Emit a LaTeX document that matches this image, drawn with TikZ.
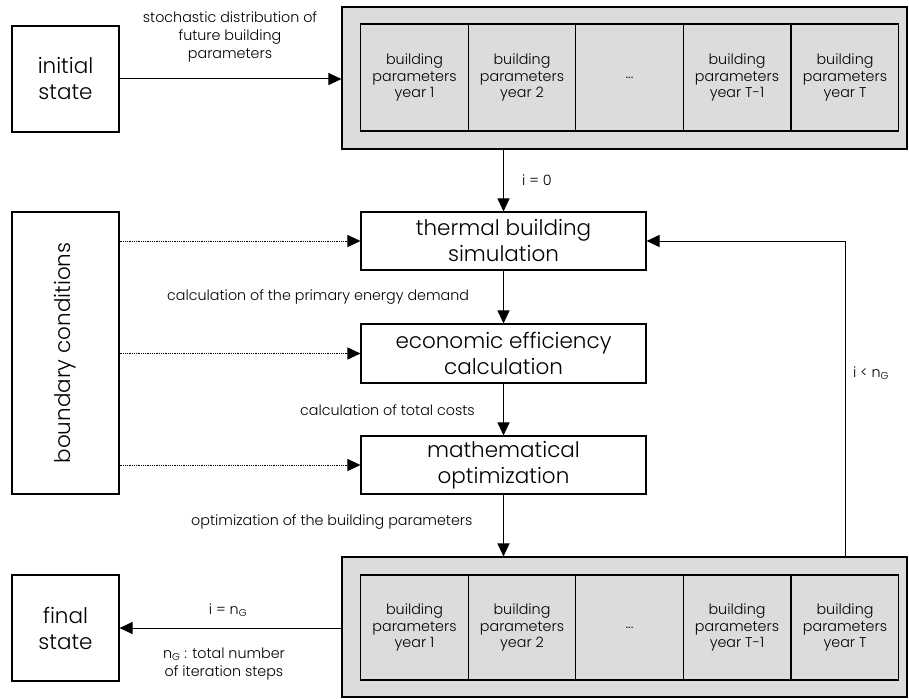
\documentclass[tikz,border=0pt]{standalone}
\usepackage{fontspec}
\setmainfont{Poppins}[UprightFont=* Light]
\usetikzlibrary{arrows.meta,calc}
\definecolor{boxgray}{RGB}{220,220,220}
\tikzset{
  box/.style={draw, rectangle, line width=1.1pt, inner sep=0pt, align=center, font=\fontsize{21.5}{26}\selectfont},
  graybox/.style={draw, rectangle, line width=1.1pt, fill=boxgray, inner sep=0pt},
  cell/.style={draw, rectangle, line width=1.1pt, fill=boxgray, inner sep=0pt, align=center,
    minimum width=107.5pt, font=\fontsize{14.3}{16.7}\selectfont},
  lbl/.style={inner sep=0pt, align=center, font=\fontsize{14.3}{18}\selectfont},
  arr/.style={line width=1pt, -{Triangle[length=13pt,width=12pt]}},
  dotarr/.style={line width=0.9pt, dash pattern=on 0.9pt off 0.9pt, -{Triangle[length=13pt,width=12pt]}}
}
\begin{document}
\begin{tikzpicture}[x=1pt,y=-1pt]
\useasboundingbox (0,0) rectangle (909,698);
% left boxes
\node[box, minimum width=107pt, minimum height=106pt] (init) at (65.5,79) {initial\\state};
\node[box, minimum width=107pt, minimum height=282pt] (bc) at (65.5,353) {\rotatebox{90}{boundary conditions}};
\node[box, minimum width=107pt, minimum height=106pt] (final) at (65.5,628) {final\\state};
% process boxes
\node[box, minimum width=285pt, minimum height=58pt] (therm) at (503.5,241) {thermal building\\simulation};
\node[box, minimum width=285pt, minimum height=59pt] (econ) at (503.5,353.5) {economic efficiency\\calculation};
\node[box, minimum width=285pt, minimum height=58pt] (math) at (503.5,465) {mathematical\\optimization};
% top parameter container
\node[graybox, minimum width=565pt, minimum height=142pt] (top) at (624.5,78) {};
\node[cell, minimum height=107pt] (t1) at (414.5,77.5) {building\\parameters\\year 1};
\node[cell, minimum height=107pt] (t2) at (522,77.5) {building\\parameters\\year 2};
\node[cell, minimum height=107pt] (t3) at (629.5,77.5) {...};
\node[cell, minimum height=107pt] (t4) at (737,77.5) {building\\parameters\\year T-1};
\node[cell, minimum height=107pt] (t5) at (845,77.5) {building\\parameters\\year T};
% bottom parameter container
\node[graybox, minimum width=565pt, minimum height=140pt] (bot) at (624.5,627) {};
\node[cell, minimum height=105pt] (b1) at (414.5,627.5) {building\\parameters\\year 1};
\node[cell, minimum height=105pt] (b2) at (522,627.5) {building\\parameters\\year 2};
\node[cell, minimum height=105pt] (b3) at (629.5,627.5) {...};
\node[cell, minimum height=105pt] (b4) at (737,627.5) {building\\parameters\\year T-1};
\node[cell, minimum height=105pt] (b5) at (845,627.5) {building\\parameters\\year T};
% connectors
\draw[arr] (init.east) -- (init.east -| top.west);
\draw[arr] (therm.north |- top.south) -- (therm.north);
\draw[arr] (therm.south) -- (econ.north);
\draw[arr] (econ.south) -- (math.north);
\draw[arr] (math.south) -- (math.south |- bot.north);
\draw[arr] (b5 |- bot.north) |- (therm.east);
\draw[arr] (bot.west |- final.east) -- (final.east);
\draw[dotarr] (bc.east |- therm.west) -- (therm.west);
\draw[dotarr] (bc.east |- econ.west) -- (econ.west);
\draw[dotarr] (bc.east |- math.west) -- (math.west);
% labels
\node[lbl] (l1) at (230,37) {stochastic distribution of\\future building\\parameters};
\node[lbl, anchor=west] (l2) at (522,180) {i = 0};
\node[lbl, anchor=west] (l3) at (167,297) {calculation of the primary energy demand};
\node[lbl, anchor=west] (l4) at (300,410) {calculation of total costs};
\node[lbl, anchor=west] (l5) at (191,522) {optimization of the building parameters};
\node[lbl, anchor=west] (l6) at (853,373) {i < n\textsubscript{G}};
\node[lbl] (l7) at (228,610) {i = n\textsubscript{G}};
\node[lbl] (l8) at (224,664) {n\textsubscript{G} : total number\\of iteration steps};
\end{tikzpicture}
\end{document}
